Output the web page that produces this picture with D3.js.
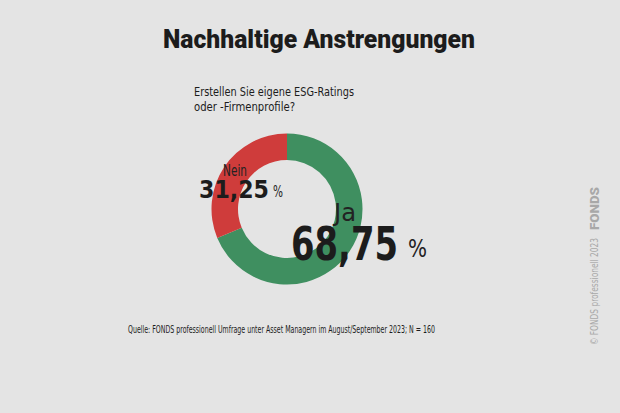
<!DOCTYPE html>
<html><head><meta charset="utf-8">
<script src="https://cdn.jsdelivr.net/npm/d3@7"></script>
<style>
html,body{margin:0;padding:0;background:#e4e4e4;}
svg{display:block;}
</style></head>
<body>
<script>
const categories = ["Ja", "Nein"];
const values = [68.75, 31.25];
const valueLabels = ["68,75", "31,25"];
const title = "Nachhaltige Anstrengungen";
const subtitle = ["Erstellen Sie eigene ESG-Ratings", "oder -Firmenprofile?"];
const source = "Quelle: FONDS professionell Umfrage unter Asset Managern im August/September 2023; N = 160";
const colors = ["#3f8f60", "#cf3c3b"];

const W = 620, H = 413;
const cond = "'Liberation Sans Narrow','DejaVu Sans Condensed','Roboto Condensed',sans-serif";
const svg = d3.select("body").append("svg").attr("width", W).attr("height", H);
svg.append("rect").attr("width", W).attr("height", H).attr("fill", "#e4e4e4");

svg.append("text").attr("x", 163).attr("y", 48).text(title)
  .attr("font-family", "Roboto, 'DejaVu Sans', sans-serif").attr("font-weight", 900)
  .attr("font-size", 25).attr("fill", "#1c1c1c")
  .attr("textLength", 312).attr("lengthAdjust", "spacingAndGlyphs");

subtitle.forEach((s, i) => {
  svg.append("text").attr("x", 194).attr("y", 96 + i * 15).text(s)
    .attr("font-family", cond).attr("font-size", 13).attr("fill", "#1c1c1c")
    .attr("textLength", i === 0 ? 160 : 101).attr("lengthAdjust", "spacingAndGlyphs");
});

const cx = 287, cy = 209, R = 75.5, r = 49;
const pie = d3.pie().sort(null).value(d => d)(values);
const arc = d3.arc().innerRadius(r).outerRadius(R);
const g = svg.append("g").attr("transform", `translate(${cx},${cy})`);
g.selectAll("path").data(pie).join("path").attr("d", arc).attr("fill", (d, i) => colors[i]);

// Labels
const lab = [
  {cat: {x: 334, y: 221, fs: 24, w: 22}, num: {x: 291, y: 260, fs: 46, w: 107}, pct: {x: 408, y: 257, fs: 24, w: 19}},
  {cat: {x: 223, y: 176, fs: 16, w: 24}, num: {x: 199, y: 198, fs: 25, w: 70}, pct: {x: 273, y: 197, fs: 15, w: 10}}
];
categories.forEach((c, i) => {
  const L = lab[i];
  svg.append("text").attr("x", L.cat.x).attr("y", L.cat.y).text(c)
    .attr("font-family", cond).attr("font-size", L.cat.fs).attr("fill", "#222")
    .attr("textLength", L.cat.w).attr("lengthAdjust", "spacingAndGlyphs");
  svg.append("text").attr("x", L.num.x).attr("y", L.num.y).text(valueLabels[i])
    .attr("font-family", cond).attr("font-weight", 700).attr("font-size", L.num.fs).attr("fill", "#1c1c1c")
    .attr("textLength", L.num.w).attr("lengthAdjust", "spacingAndGlyphs");
  svg.append("text").attr("x", L.pct.x).attr("y", L.pct.y).text("%")
    .attr("font-family", cond).attr("font-size", L.pct.fs).attr("fill", "#222")
    .attr("textLength", L.pct.w).attr("lengthAdjust", "spacingAndGlyphs");
});

svg.append("text").attr("x", 128).attr("y", 333).text(source)
  .attr("font-family", cond).attr("font-size", 10).attr("fill", "#1c1c1c")
  .attr("textLength", 307).attr("lengthAdjust", "spacingAndGlyphs");

// Watermark
const wm = svg.append("g").attr("transform", "translate(598,0) rotate(-90)");
wm.append("text").attr("x", -345).attr("y", 0).text("© FONDS professionell 2023")
  .attr("font-family", cond).attr("font-size", 11).attr("fill", "#a8a8a8")
  .attr("textLength", 107).attr("lengthAdjust", "spacingAndGlyphs");
wm.append("text").attr("x", -230).attr("y", 1).text("FONDS")
  .attr("font-family", "Roboto, sans-serif").attr("font-weight", 900).attr("font-size", 13).attr("fill", "#a8a8a8")
  .attr("textLength", 43).attr("lengthAdjust", "spacingAndGlyphs");
</script>
</body></html>
